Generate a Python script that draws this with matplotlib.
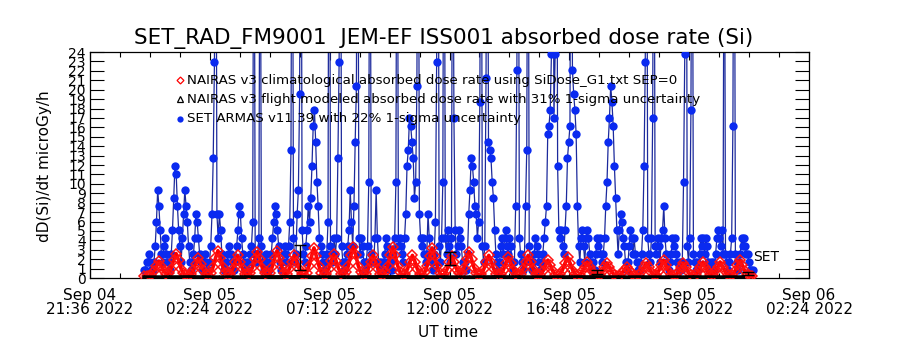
import numpy as np
import matplotlib
matplotlib.use("Agg")
import matplotlib.pyplot as plt
import matplotlib.dates as mdates
from matplotlib.ticker import FixedLocator

# ---- data ----
axis_start = np.datetime64('2022-09-04T21:36')
axis_end = np.datetime64('2022-09-06T02:24')
series_start = np.datetime64('2022-09-04T23:46')

# SET ARMAS v11.39 dose rate, in counts (1 count = 0.85 microGy/h), one row ~ 1 hour
blue_step_s = 178
dose_per_count = 0.85
blue_counts = [
    1, 1, 2, 2, 3, 2, 1, 1, 2, 4, 7, 11, 9, 6, 3, 2, 4, 5, 3, 2,
    2, 1, 3, 6, 10, 14, 13, 9, 6, 4, 2, 5, 8, 11, 9, 7, 4, 2, 1, 2,
    3, 5, 8, 7, 5, 3, 2, 1, 2, 3, 2, 1, 1, 2, 4, 8, 15, 27, 70, 8,
    5, 8, 6, 3, 2, 1, 2, 1, 3, 4, 3, 2, 1, 1, 2, 4, 6, 9, 8, 5,
    3, 2, 1, 2, 1, 2, 3, 4, 7, 65, 3, 2, 3, 5, 60, 4, 2, 1, 2, 3,
    2, 1, 2, 3, 5, 7, 9, 8, 6, 4, 2, 1, 2, 3, 4, 3, 2, 4, 7, 16,
    70, 5, 2, 3, 8, 11, 23, 75, 6, 3, 2, 4, 6, 9, 7, 10, 14, 19, 21, 17,
    12, 9, 5, 4, 3, 2, 1, 2, 3, 7, 80, 4, 2, 3, 5, 3, 5, 15, 27, 70,
    4, 2, 1, 2, 3, 4, 6, 11, 7, 4, 9, 17, 24, 70, 5, 3, 5, 4, 2, 1,
    2, 4, 12, 65, 3, 2, 2, 5, 11, 5, 2, 1, 2, 1, 2, 3, 5, 4, 2, 1,
    2, 1, 3, 5, 12, 70, 4, 5, 4, 3, 2, 5, 8, 14, 16, 20, 19, 17, 15, 10,
    12, 24, 70, 8, 5, 4, 5, 3, 2, 3, 8, 5, 3, 2, 1, 3, 7, 27, 75, 4,
    2, 5, 12, 70, 5, 3, 6, 4, 2, 5, 60, 20, 6, 3, 4, 6, 5, 4, 2, 1,
    2, 1, 3, 8, 11, 15, 14, 12, 9, 8, 5, 7, 22, 70, 4, 2, 4, 25, 70, 17,
    16, 15, 12, 10, 6, 3, 2, 1, 2, 4, 5, 3, 5, 6, 4, 3, 5, 4, 2, 1,
    2, 9, 26, 70, 5, 3, 2, 1, 2, 9, 16, 65, 4, 2, 1, 2, 3, 5, 4, 3,
    2, 1, 2, 3, 5, 7, 9, 18, 19, 21, 28, 70, 20, 28, 75, 14, 6, 5, 6, 4,
    3, 6, 9, 15, 17, 19, 70, 26, 23, 21, 18, 9, 4, 2, 5, 6, 4, 2, 5, 6,
    5, 3, 2, 1, 2, 1, 3, 5, 4, 5, 3, 2, 3, 5, 9, 12, 17, 20, 24, 22,
    19, 14, 10, 6, 3, 6, 8, 7, 5, 4, 2, 1, 2, 4, 6, 5, 3, 5, 3, 2,
    1, 2, 1, 3, 6, 14, 27, 70, 5, 3, 2, 5, 20, 65, 4, 3, 5, 4, 2, 5,
    6, 9, 5, 3, 2, 1, 2, 3, 5, 4, 5, 3, 2, 1, 2, 1, 2, 12, 28, 75,
    4, 2, 5, 21, 65, 3, 2, 1, 2, 1, 3, 5, 4, 5, 3, 5, 4, 2, 1, 2,
    1, 2, 1, 3, 5, 6, 5, 4, 6, 3, 60, 3, 2, 1, 2, 3, 5, 19, 70, 3,
    2, 1, 2, 3, 5, 4, 5, 4, 3, 3, 2, 1, 1, 1,
]

# NAIRAS v3 climatological dose rate (microGy/h)
red_step_s = 355
nairas_clim = [
    0.2, 0.2, 0.2, 0.35, 0.7, 1.3, 1.8, 1.3, 0.75, 0.45,
    0.5, 1.0, 1.9, 2.6, 1.9, 1.0, 0.5, 0.3, 0.25, 0.4,
    0.85, 1.5, 2.1, 1.5, 0.85, 0.4, 0.3, 0.5, 1.15, 2.1,
    2.9, 2.1, 1.15, 0.5, 0.3, 0.45, 0.95, 1.75, 2.4, 1.75,
    0.95, 0.45, 0.3, 0.5, 1.1, 2.0, 2.8, 2.0, 1.1, 0.5,
    0.3, 0.5, 1.15, 2.1, 2.9, 2.1, 1.15, 0.5, 0.45, 0.95,
    1.75, 2.4, 1.75, 0.95, 0.45, 0.3, 0.55, 1.3, 2.3, 3.2,
    2.3, 1.3, 0.55, 0.3, 0.45, 1.0, 1.8, 2.5, 1.8, 1.0,
    0.45, 0.3, 0.6, 1.3, 2.4, 3.3, 2.4, 1.3, 0.6, 0.3,
    0.45, 0.95, 1.75, 2.4, 1.75, 0.95, 0.45, 0.3, 0.6, 1.3,
    2.4, 3.3, 2.4, 1.3, 0.6, 0.3, 0.45, 0.95, 1.75, 2.4,
    1.75, 0.95, 0.45, 0.3, 0.6, 1.3, 2.3, 3.2, 2.3, 1.3,
    0.55, 0.3, 0.4, 0.9, 1.65, 2.3, 1.65, 0.9, 0.5, 0.5,
    1.1, 2.0, 2.8, 2.0, 1.1, 0.5, 0.3, 0.45, 0.95, 1.75,
    2.4, 1.75, 0.95, 0.45, 0.25, 0.4, 0.9, 1.6, 2.2, 1.6,
    0.9, 0.4, 0.25, 0.45, 0.95, 1.75, 2.4, 1.75, 0.95, 0.45,
    0.2, 0.35, 0.75, 1.35, 1.9, 1.35, 0.75, 0.35, 0.25, 0.4,
    0.9, 1.6, 2.2, 1.6, 0.9, 0.4, 0.2, 0.3, 0.7, 1.2,
    1.7, 1.2, 0.7, 0.3, 0.2, 0.3, 0.65, 1.15, 1.6, 1.15,
    0.65, 0.3, 0.2, 0.25, 0.5, 0.85, 1.2, 0.85, 0.5, 0.25,
    0.2, 0.3, 0.65, 1.15, 1.6, 1.15, 0.65, 0.35, 0.35, 0.75,
    1.35, 1.9, 1.35, 0.75, 0.35, 0.2, 0.3, 0.65, 1.15, 1.6,
    1.15, 0.65, 0.3, 0.2, 0.3, 0.7, 1.2, 1.7, 1.2, 0.7,
    0.3, 0.3, 0.7, 1.2, 1.7, 1.2, 0.7, 0.35, 0.25, 0.35,
    0.75, 1.35, 1.9, 1.35, 0.75, 0.35, 0.2, 0.2,
]

# NAIRAS v3 flight modeled dose rate, hourly (microGy/h)
flight_step_s = 3600
nairas_flight = [0.10, 0.11, 0.12, 0.10, 0.11, 0.12, 0.13, 0.11, 0.10, 0.12,
                 0.13, 0.12, 0.11, 0.10, 0.12, 0.11, 0.10, 0.11, 0.12, 0.10,
                 0.11, 0.10, 0.11, 0.10, 0.11]

# a few flight points with 31% uncertainty bars
err_times = np.array(['2022-09-05T06:01', '2022-09-05T12:01',
                      '2022-09-05T17:54', '2022-09-05T23:57'], dtype='datetime64[m]')
err_center = [2.2, 2.1, 0.65, 0.5]
err_half = [1.3, 0.7, 0.2, 0.15]


def as_dt(a):
    return a.astype('datetime64[s]').astype(object)


blue_t = as_dt(series_start + np.arange(len(blue_counts)) * np.timedelta64(blue_step_s, 's'))
red_t = as_dt(series_start + np.arange(len(nairas_clim)) * np.timedelta64(red_step_s, 's'))
flight_t = as_dt(series_start + np.arange(len(nairas_flight)) * np.timedelta64(flight_step_s, 's'))
blue_dose = np.array(blue_counts) * dose_per_count

blue_mk = '#0a2af0'
blue_ln = '#1c2a9c'

fig = plt.figure(figsize=(9, 3.5), dpi=100)
ax = fig.add_axes([0.1, 0.2057, 0.7989, 0.6457])

ax.plot(blue_t, blue_dose, '-', color=blue_ln, lw=0.9, zorder=2)
ax.plot(blue_t, blue_dose, 'o', color=blue_mk, ms=6, mew=0, zorder=3)
ax.plot(red_t, nairas_clim, '-', color='#ff0000', lw=2.6, zorder=4)
ax.plot(red_t, nairas_clim, 'D', mfc='none', mec='#ff1010', ms=5.5, mew=1.1, zorder=4)
ax.plot(flight_t, nairas_flight, '-^', color='black', lw=2.5, ms=2.5, zorder=5)
ax.errorbar(as_dt(err_times), err_center, yerr=err_half, fmt='none',
            ecolor='black', elinewidth=1.0, capsize=4, capthick=1.0, zorder=6)
ax.text(blue_t[-1], 2.2, 'SET', fontsize=10, ha='left', va='center', zorder=7)

ax.set_xlim(as_dt(axis_start), as_dt(axis_end))
ax.set_ylim(0, 24)

major = np.arange(axis_start, axis_end + np.timedelta64(1, 'm'), np.timedelta64(288, 'm'))
minor = np.arange(axis_start, axis_end + np.timedelta64(1, 'm'), np.timedelta64(72, 'm'))
ax.xaxis.set_major_locator(FixedLocator(mdates.date2num(as_dt(major))))
ax.xaxis.set_minor_locator(FixedLocator(mdates.date2num(as_dt(minor))))
ax.xaxis.set_major_formatter(mdates.DateFormatter('%b %d\n%H:%M %Y'))
ax.set_yticks(range(0, 25))
ax.set_yticklabels([str(v) for v in range(0, 25)])

ax.tick_params(axis='x', which='major', direction='in', top=True, bottom=True,
               length=6, width=0.8, labelsize=11, pad=7)
ax.tick_params(axis='x', which='minor', direction='in', top=True, bottom=True,
               length=3.5, width=0.8)
ax.tick_params(axis='y', which='major', direction='in', left=True, right=True,
               length=10, width=0.8, labelsize=10, pad=3)
for lab in ax.get_xticklabels():
    lab.set_linespacing(0.95)
for sp in ax.spines.values():
    sp.set_linewidth(0.9)

# legend drawn by hand, like the original
leg_y = [0.876, 0.791, 0.704]
ax.plot([0.125], [leg_y[0]], 'D', mfc='none', mec='#ff0000', ms=3.5, mew=0.9, transform=ax.transAxes, clip_on=False)
ax.plot([0.125], [leg_y[1]], '^', mfc='none', mec='black', ms=4.5, mew=0.9, transform=ax.transAxes, clip_on=False)
ax.plot([0.125], [leg_y[2]], 'o', color=blue_mk, ms=4.5, mew=0, transform=ax.transAxes, clip_on=False)
leg_txt = ['NAIRAS v3 climatological absorbed dose rate using SiDose_G1.txt SEP=0',
           'NAIRAS v3 flight modeled absorbed dose rate with 31% 1-sigma uncertainty',
           'SET ARMAS v11.39 with 22% 1-sigma uncertainty']
for yy, tt in zip(leg_y, leg_txt):
    ax.text(0.135, yy, tt, transform=ax.transAxes, fontsize=9.6, va='center', ha='left', zorder=8)

fig.text(0.4933, 0.8914, 'SET_RAD_FM9001  JEM-EF ISS001 absorbed dose rate (Si)',
         fontsize=15.5, ha='center', va='center')
fig.text(0.05, 0.526, 'dD(Si)/dt microGy/h', rotation=90, fontsize=11, ha='center', va='center')
fig.text(0.4978, 0.0514, 'UT time', fontsize=11, ha='center', va='center')

fig.savefig('out.png', dpi=100)
